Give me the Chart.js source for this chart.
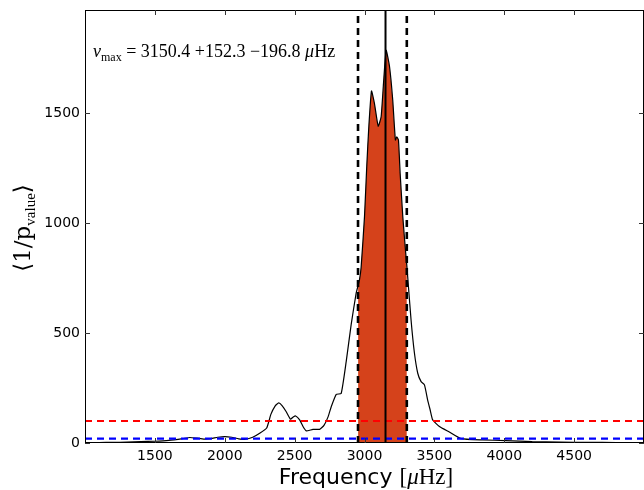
<!DOCTYPE html>
<html><head><meta charset="utf-8">
<script src="https://cdn.jsdelivr.net/npm/chart.js@4.4.0/dist/chart.umd.min.js"></script>
<style>html,body{margin:0;padding:0;background:#fff}#wrap{width:644px;height:490px;position:relative}</style>
</head><body><div id="wrap"><canvas id="c" width="644" height="490"></canvas></div>
<script>
// ---- data ----
const freq = [1000,1100,1200,1300,1400,1500,1600,1700,1750,1800,1850,1900,1950,2000,2050,2100,2150,2200,2250,2300,2330,2360,2386,2410,2440,2470,2490,2507,2536,2560,2583,2631,2679,2710,2740,2762,2798,2833,2869,2905,2940,2954,2964,2976,3000,3016,3031,3050,3071,3098,3119,3136,3155,3179,3202,3221,3231,3243,3255,3274,3293,3303,3309,3333,3357,3381,3405,3429,3452,3470,3488,3536,3607,3690,3845,4012,4200,4400,4600,4800,5000];
const power = [2,2,3,4,6,8,12,20,25,22,18,20,26,29,26,19,17,26,44,68,130,168,182,170,142,108,118,123,105,75,55,62,62,80,120,165,221,225,370,540,680,715,741,800,1029,1256,1438,1600,1544,1440,1483,1635,1785,1711,1559,1377,1392,1377,1226,1029,877,805,756,560,410,317,279,264,195,150,105,75,50,20,14,11,6,4,3,2,2];
const nuMax = 3150.4, nuPlus = 152.3, nuMinus = 196.8;
const redLevel = 100;
const blueLevel = 20;
const xTicks = [1500,2000,2500,3000,3500,4000,4500];
const yTicks = [0,500,1000,1500];
const xMin = 1000, xMax = 5000, yMin = 0, yMax = 1968;

const curve = freq.map((f,i)=>({x:f,y:power[i]}));
const lo = nuMax - nuMinus, hi = nuMax + nuPlus;
const band = curve.filter(p => p.x >= lo - 1 && p.x <= hi + 1);

const frame = {
  id:'frame',
  afterDraw(chart){
    const {ctx, chartArea:a, scales:{x,y}} = chart;
    ctx.save();
    ctx.strokeStyle = '#000'; ctx.lineWidth = 1;
    ctx.beginPath();
    ctx.moveTo(a.left+0.5, a.top+0.5); ctx.lineTo(a.right, a.top+0.5);
    ctx.moveTo(a.left+0.5, a.top); ctx.lineTo(a.left+0.5, a.bottom);
    ctx.moveTo(a.left, a.bottom-0.5); ctx.lineTo(a.right, a.bottom-0.5);
    ctx.moveTo(a.right-0.5, a.top); ctx.lineTo(a.right-0.5, a.bottom);
    ctx.stroke();
    ctx.strokeStyle = '#333';
    ctx.beginPath();
    xTicks.forEach(v=>{const px=Math.round(x.getPixelForValue(v))+0.5;
      ctx.moveTo(px,a.bottom); ctx.lineTo(px,a.bottom-5);
      ctx.moveTo(px,a.top); ctx.lineTo(px,a.top+5);});
    yTicks.forEach(v=>{const py=Math.round(y.getPixelForValue(v))+0.5;
      ctx.moveTo(a.left,py); ctx.lineTo(a.left+5,py);
      ctx.moveTo(a.right,py); ctx.lineTo(a.right-5,py);});
    ctx.stroke();

    // annotation
    ctx.fillStyle = '#000';
    ctx.textBaseline = 'alphabetic';
    let cx = 93; const by = 57;
    const run = (t, font, dy=0) => { ctx.font = font; ctx.fillText(t, cx, by+dy); cx += ctx.measureText(t).width; };
    run('ν', 'italic 18px "Liberation Serif"');
    run('max', '12px "Liberation Serif"', 4);
    run(' = 3150.4 +152.3 −196.8 ', '18px "Liberation Serif"');
    run('μ', 'italic 18px "Liberation Serif"');
    run('Hz', '18px "Liberation Serif"');

    // x title
    ctx.font = '22px "DejaVu Sans"';
    const p1 = 'Frequency ';
    const w1 = ctx.measureText(p1).width;
    ctx.font = '23px "Liberation Serif"'; const wb = ctx.measureText('[').width, wh = ctx.measureText('Hz]').width;
    ctx.font = 'italic 23px "Liberation Serif"'; const wm = ctx.measureText('μ').width;
    const tot = w1+wb+wm+wh;
    cx = 366 - tot/2; const bx = 484;
    const run2 = (t, font) => { ctx.font = font; ctx.fillText(t, cx, bx); cx += ctx.measureText(t).width; };
    run2(p1, '22px "DejaVu Sans"');
    run2('[', '23px "Liberation Serif"');
    run2('μ', 'italic 23px "Liberation Serif"');
    run2('Hz]', '23px "Liberation Serif"');

    // y title rotated
    ctx.translate(30, 228);
    ctx.rotate(-Math.PI/2);
    const parts = [['⟨1/p','23px "DejaVu Serif"',0],['value','15px "Liberation Serif"',5],['⟩','23px "DejaVu Serif"',0]];
    let tw = 0; parts.forEach(p=>{ctx.font=p[1]; tw+=ctx.measureText(p[0]).width;});
    let rx = -tw/2;
    parts.forEach(p=>{ctx.font=p[1]; ctx.fillText(p[0], rx, p[2]); rx+=ctx.measureText(p[0]).width;});
    ctx.restore();
  }
};

new Chart(document.getElementById('c'), {
  type:'line',
  data:{ datasets:[
    {data:band, borderWidth:0, pointRadius:0, fill:'origin', backgroundColor:'#d5421b', borderColor:'rgba(0,0,0,0)', tension:0.15, order:6},
    {data:curve, borderColor:'#000', borderWidth:1.2, pointRadius:0, fill:false, tension:0.15, order:5},
    {data:[{x:xMin,y:redLevel},{x:xMax,y:redLevel}], borderColor:'#ff0000', borderWidth:2.2, borderDash:[7,5], pointRadius:0, fill:false, order:4},
    {data:[{x:xMin,y:blueLevel},{x:xMax,y:blueLevel}], borderColor:'#0000ff', borderWidth:2.2, borderDash:[7,5], pointRadius:0, fill:false, order:3},
    {data:[{x:lo,y:yMin},{x:lo,y:yMax}], borderColor:'#000', borderWidth:2.6, borderDash:[7,5], pointRadius:0, fill:false, order:2},
    {data:[{x:hi,y:yMin},{x:hi,y:yMax}], borderColor:'#000', borderWidth:2.6, borderDash:[7,5], pointRadius:0, fill:false, order:2},
    {data:[{x:nuMax,y:yMin},{x:nuMax,y:yMax}], borderColor:'#000', borderWidth:2, pointRadius:0, fill:false, order:1}
  ]},
  options:{
    responsive:false, animation:false, devicePixelRatio:1,
    layout:{padding:{left:0,right:0,top:10,bottom:0}},
    plugins:{legend:{display:false}, tooltip:{enabled:false}},
    scales:{
      x:{type:'linear', min:xMin, max:xMax,
        afterBuildTicks(s){ s.ticks = xTicks.map(v=>({value:v})); },
        afterFit(s){ s.height = 47; s.paddingLeft = 0; s.paddingRight = 0; },
        grid:{display:false, drawTicks:false}, border:{display:false},
        ticks:{padding:5, color:'#000', font:{family:'DejaVu Sans', size:14}, maxRotation:0, autoSkip:false, callback:v=>String(v)}},
      y:{type:'linear', min:yMin, max:yMax,
        afterBuildTicks(s){ s.ticks = yTicks.map(v=>({value:v})); },
        afterFit(s){ s.width = 85; s.paddingTop = 0; s.paddingBottom = 0; },
        grid:{display:false, drawTicks:false}, border:{display:false},
        ticks:{padding:5, color:'#000', font:{family:'DejaVu Sans', size:14}, callback:v=>String(v)}}
    }
  },
  plugins:[frame]
});
</script></body></html>
